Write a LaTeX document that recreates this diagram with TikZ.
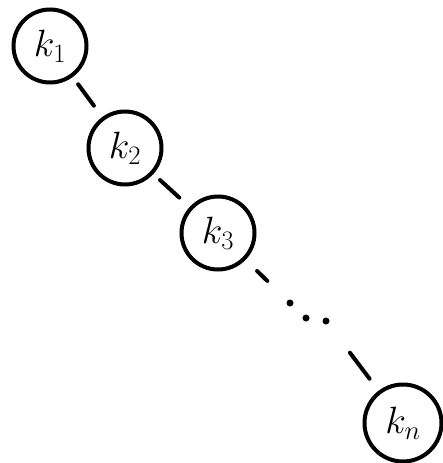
\documentclass[tikz,border=0pt]{standalone}
\usepackage{fix-cm}
\usepackage{amsmath}
\usepackage{tikz}
\usetikzlibrary{positioning, calc}

\begin{document}
\begin{tikzpicture}[
    x=1pt, y=-1pt,
    key/.style={circle, draw=black, line width=4pt, inner sep=0pt,
                minimum size=73pt, font=\fontsize{38}{42}\selectfont},
    dot/.style={circle, fill=black, inner sep=0pt, minimum size=7pt},
    link/.style={line width=4pt, line cap=round,
                 shorten <=9pt, shorten >=14pt}
]
\useasboundingbox (0,0) rectangle (443,463);

% Keys
\node[key] (k1) at (50,46)   {$k_1$};
\node[key] (k2) at (125,148) {$k_2$};
\node[key] (k3) at (218,233) {$k_3$};
\node[key, minimum size=77pt] (kn) at (403,423) {$k_n$};

% Dots
\node[dot] (d1) at (290,303) {};
\node[dot] (d2) at (306,318) {};
\node[dot] (d3) at (326,321) {};

% Links
\draw[link] (k1) -- (k2);
\draw[link] (k2) -- (k3);
\draw[link, shorten <=16pt, shorten >=28pt] (k3) -- (d1);
\draw[link, shorten <=36pt, shorten >=15pt] (d3) -- (kn);

\end{tikzpicture}
\end{document}
